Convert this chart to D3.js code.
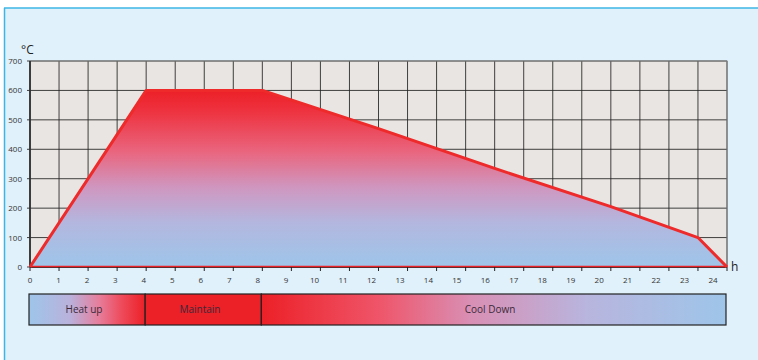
<!DOCTYPE html>
<html lang="en">
<head>
<meta charset="utf-8">
<title>Heat treatment cycle</title>
<style>
  body { margin: 0; background: #fff; }
  svg { display: block; font-family: "Open Sans", "DejaVu Sans", sans-serif; }
  .grid line { stroke: #222; stroke-opacity: 0.85; }
  .ylab, .xlab { font-size: 8px; fill: #333; }
  .phase text { font-size: 10px; fill: #3a2a3a; }
</style>
</head>
<body>
<div id="chart"></div>
<script src="https://cdn.jsdelivr.net/npm/d3@7"></script>
<script>
  var width = 758, height = 360;

  // profile: hours -> temperature
  var hours = [0, 4, 8, 12, 16, 20, 23, 24];
  var temps = [0, 600, 600, 470, 335, 205, 100, 0];
  var xTicks = d3.range(0, 25);
  var yTicks = [0, 100, 200, 300, 400, 500, 600, 700];
  var phases = ["Heat up", "Maintain", "Cool Down"];
  var phaseStart = [0, 4, 8];
  var phaseEnd = [4, 8, 24];

  var blue = "#9ec5e9", red = "#ec2027";

  var svg = d3.select("#chart").append("svg")
      .attr("width", width).attr("height", height);

  // panel
  svg.append("rect").attr("x", 4).attr("y", 8).attr("width", width).attr("height", height)
      .attr("fill", "#e0f1fb");
  svg.append("line").attr("x1", 4).attr("x2", width).attr("y1", 8).attr("y2", 8)
      .attr("stroke", "#3cb6e6").attr("stroke-width", 1.5);
  svg.append("line").attr("x1", 4.5).attr("x2", 4.5).attr("y1", 8).attr("y2", height)
      .attr("stroke", "#3cb6e6").attr("stroke-width", 1.5);

  var x = d3.scaleLinear().domain([0, 24]).range([30, 727]);
  var xl = d3.scaleLinear().domain([0, 24]).range([30, 713]); // labels drift a bit in the original
  var y = d3.scaleLinear().domain([0, 700]).range([267, 61]);

  var defs = svg.append("defs");
  var vg = defs.append("linearGradient").attr("id", "areaGrad")
      .attr("gradientUnits", "userSpaceOnUse")
      .attr("x1", 0).attr("x2", 0).attr("y1", y(600)).attr("y2", y(0));
  [[0, red], [0.12, "#ee3340"], [0.35, "#e9667f"], [0.55, "#cf97c0"], [0.75, "#b3b7df"], [1, blue]]
    .forEach(function(s) { vg.append("stop").attr("offset", s[0]).attr("stop-color", s[1]); });

  var hg = defs.append("linearGradient").attr("id", "heatGrad");
  [[0, blue], [0.35, "#b9b2dc"], [0.6, "#e67e9c"], [0.8, "#ee4a5a"], [1, red]]
    .forEach(function(s) { hg.append("stop").attr("offset", s[0]).attr("stop-color", s[1]); });
  var cg = defs.append("linearGradient").attr("id", "coolGrad");
  [[0, red], [0.25, "#ef5468"], [0.45, "#d98fb4"], [0.7, "#b8b5de"], [1, blue]]
    .forEach(function(s) { cg.append("stop").attr("offset", s[0]).attr("stop-color", s[1]); });

  // plot background
  svg.append("rect").attr("x", x(0)).attr("y", y(700))
      .attr("width", x(24) - x(0)).attr("height", y(0) - y(700))
      .attr("fill", "#e9e5e2");

  var grid = svg.append("g").attr("class", "grid");
  grid.selectAll(".v").data(xTicks).enter().append("line")
      .attr("x1", function(d) { return x(d); }).attr("x2", function(d) { return x(d); })
      .attr("y1", y(0)).attr("y2", y(700));
  grid.selectAll(".h").data(yTicks).enter().append("line")
      .attr("x1", x(0) - 3).attr("x2", x(24))
      .attr("y1", function(d) { return y(d); }).attr("y2", function(d) { return y(d); });
  svg.append("rect").attr("x", x(0)).attr("y", y(700))
      .attr("width", x(24) - x(0)).attr("height", y(0) - y(700))
      .attr("fill", "none").attr("stroke", "#888");

  var pts = hours.map(function(h, i) { return [h, temps[i]]; });

  svg.append("path").datum(pts)
      .attr("fill", "url(#areaGrad)")
      .attr("d", d3.area().x(function(d) { return x(d[0]); }).y0(y(0)).y1(function(d) { return y(d[1]); }));

  // axes
  svg.append("line").attr("x1", x(0)).attr("x2", x(0)).attr("y1", y(0)).attr("y2", y(700))
      .attr("stroke", "#222").attr("stroke-width", 1.5);
  svg.append("line").attr("x1", x(0)).attr("x2", x(24)).attr("y1", y(0)).attr("y2", y(0))
      .attr("stroke", "#333").attr("stroke-width", 2);
  svg.append("line").attr("x1", x(0)).attr("x2", x(24)).attr("y1", y(0) - 0.5).attr("y2", y(0) - 0.5)
      .attr("stroke", red).attr("stroke-width", 1.5);
  svg.append("g").selectAll("line").data(xTicks).enter().append("line")
      .attr("x1", function(d) { return x(d); }).attr("x2", function(d) { return x(d); })
      .attr("y1", y(0)).attr("y2", y(0) + 4).attr("stroke", "#222");

  svg.append("path").datum(pts)
      .attr("fill", "none").attr("stroke", "#ee2a2a").attr("stroke-width", 3)
      .attr("stroke-linejoin", "round")
      .attr("d", d3.line().x(function(d) { return x(d[0]); }).y(function(d) { return y(d[1]); }));

  svg.append("g").selectAll("text").data(yTicks).enter().append("text")
      .attr("class", "ylab")
      .attr("x", 22).attr("y", function(d) { return y(d) + 3; })
      .attr("text-anchor", "end").text(function(d) { return d; });
  svg.append("g").selectAll("text").data(xTicks).enter().append("text")
      .attr("class", "xlab")
      .attr("x", function(d) { return xl(d); }).attr("y", 283)
      .attr("text-anchor", "middle").text(function(d) { return d; });

  svg.append("text").attr("x", 21).attr("y", 54).attr("font-size", 12).attr("fill", "#222").text("°C");
  svg.append("text").attr("x", 731).attr("y", 271).attr("font-size", 12).attr("fill", "#222").text("h");

  // phase bar
  var barY = 294, barH = 31;
  var ph = svg.append("g").attr("class", "phase");
  var fills = ["url(#heatGrad)", red, "url(#coolGrad)"];
  ph.selectAll("rect").data(phases).enter().append("rect")
      .attr("x", function(d, i) { return x(phaseStart[i]) - 1; })
      .attr("width", function(d, i) { return x(phaseEnd[i]) - x(phaseStart[i]); })
      .attr("y", barY).attr("height", barH)
      .attr("fill", function(d, i) { return fills[i]; })
      .attr("stroke", "#222").attr("stroke-width", 1.2);
  var labelX = [84, 200, 490];
  ph.selectAll("text").data(phases).enter().append("text")
      .attr("x", function(d, i) { return labelX[i]; })
      .attr("y", barY + barH / 2 + 3.5)
      .attr("text-anchor", "middle").text(function(d) { return d; });
</script>
</body>
</html>
